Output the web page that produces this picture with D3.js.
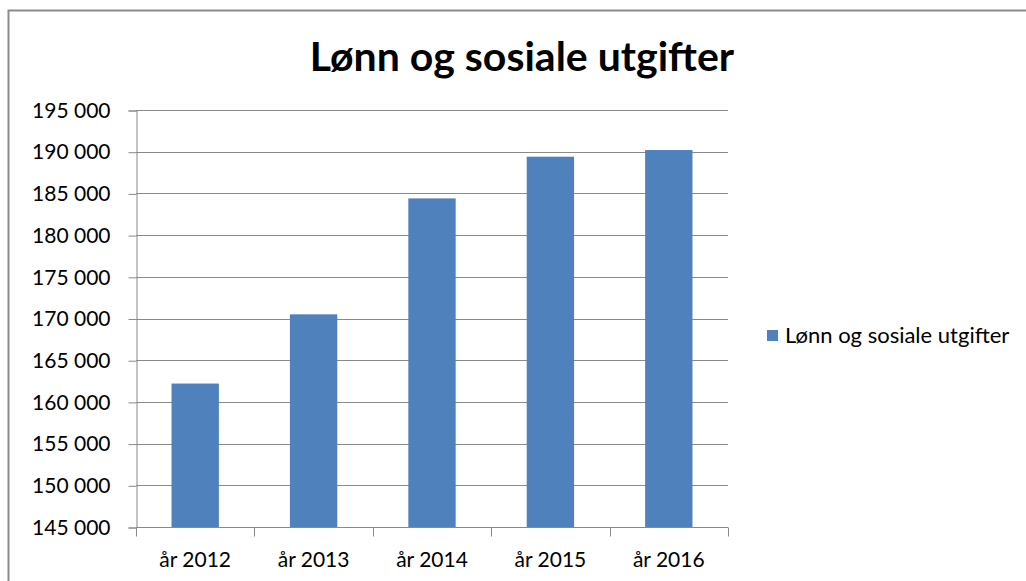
<!DOCTYPE html>
<html>
  <head>
    <meta charset="utf-8">
    <title>Lønn og sosiale utgifter</title>
    <script src="https://cdn.jsdelivr.net/npm/d3@7"></script>
    <style>
      body { margin: 0; background: white; }
      svg { display: block; font-family: Lato, "Open Sans", sans-serif; }
    </style>
  </head>
  <body>
    <script>
      // data
      var years = ['år 2012', 'år 2013', 'år 2014', 'år 2015', 'år 2016'];
      var values = [162200, 170500, 184400, 189400, 190200];
      var yTicks = [145000, 150000, 155000, 160000, 165000, 170000, 175000, 180000, 185000, 190000, 195000];
      var seriesName = 'Lønn og sosiale utgifter';

      (function(){
        var W = 1026, H = 581;
        var pl = 136, pr = 728, pt = 110, pb = 527;

        var svg = d3.select('body').append('svg').attr('width', W).attr('height', H);

        // frame (only left/top edges are visible in the crop)
        svg.append('path').attr('d', 'M8.5,' + H + 'V10.5H' + W)
          .attr('fill', 'none').attr('stroke', '#8c8c8c').attr('stroke-width', 2);

        var x = d3.scaleBand().domain(years).range([pl, pr]).paddingInner(0.6).paddingOuter(0.3);
        var y = d3.scaleLinear().domain([145000, 195000]).range([pb, pt]);

        var fmt = function(d){ return d3.format(',')(d).replace(',', ' '); };

        // gridlines
        svg.append('g').selectAll('line').data(yTicks.slice(1)).enter().append('line')
          .attr('x1', pl).attr('x2', pr)
          .attr('y1', function(d){ return Math.round(y(d)) + 0.5; })
          .attr('y2', function(d){ return Math.round(y(d)) + 0.5; })
          .attr('stroke', '#8a8a8a').attr('stroke-width', 1.2);

        // y axis
        var yAxis = svg.append('g').attr('transform', 'translate(' + (pl + 0.5) + ',0.5)')
          .call(d3.axisLeft(y).tickValues(yTicks).tickFormat(fmt).tickSize(8).tickPadding(18));
        yAxis.selectAll('line, path').attr('stroke', '#8a8a8a');
        yAxis.selectAll('text').attr('font-size', 21).attr('fill', '#000').attr('font-family', 'Lato, sans-serif');

        // bars
        svg.append('g').selectAll('rect').data(values).enter().append('rect')
          .attr('x', function(d, i){ return x(years[i]); })
          .attr('width', x.bandwidth())
          .attr('y', function(d){ return y(d); })
          .attr('height', function(d){ return pb - y(d); })
          .attr('fill', '#4f81bd');

        // x axis
        var step = (pr - pl) / years.length;
        var xAxis = svg.append('g').attr('transform', 'translate(0,' + (pb + 0.5) + ')');
        xAxis.append('line').attr('x1', pl).attr('x2', pr).attr('stroke', '#8a8a8a');
        xAxis.selectAll('line.t').data(d3.range(years.length + 1)).enter().append('line').attr('class', 't')
          .attr('x1', function(i){ return Math.round(pl + i * step) + 0.5; })
          .attr('x2', function(i){ return Math.round(pl + i * step) + 0.5; })
          .attr('y1', 0).attr('y2', 9).attr('stroke', '#8a8a8a');
        xAxis.selectAll('text').data(years).enter().append('text')
          .attr('x', function(d){ return x(d) + x.bandwidth() / 2; })
          .attr('y', 39).attr('text-anchor', 'middle').attr('font-size', 21)
          .text(function(d){ return d; });

        // title
        svg.append('text').attr('x', 522).attr('y', 71).attr('text-anchor', 'middle')
          .attr('font-size', 41).attr('font-weight', 'bold').text(seriesName);

        // legend
        var lg = svg.append('g').attr('transform', 'translate(767,330)');
        lg.append('rect').attr('width', 11).attr('height', 11).attr('fill', '#4f81bd');
        lg.append('text').attr('x', 18).attr('y', 13).attr('font-size', 22).text(seriesName);
      })();
    </script>
  </body>
</html>
